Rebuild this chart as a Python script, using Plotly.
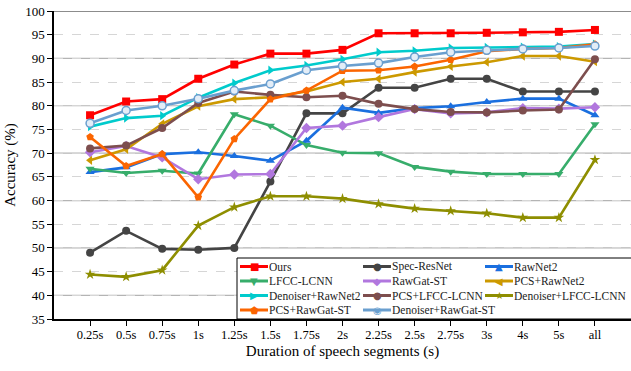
import plotly.graph_objects as go

categories = ["0.25s", "0.5s", "0.75s", "1s", "1.25s", "1.5s", "1.75s", "2s",
              "2.25s", "2.5s", "2.75s", "3s", "4s", "5s", "all"]

ours = [78.0, 80.9, 81.4, 85.7, 88.7, 91.0, 91.0, 91.8, 95.3, 95.3, 95.3, 95.4, 95.5, 95.6, 96.0]
spec_resnet = [49.0, 53.6, 49.8, 49.6, 50.0, 64.0, 78.4, 78.4, 83.8, 83.8, 85.7, 85.7, 83.0, 83.0, 83.0]
rawnet2 = [66.0, 67.0, 69.8, 70.2, 69.4, 68.4, 72.6, 79.6, 78.5, 79.5, 79.9, 80.8, 81.5, 81.5, 78.0]
lfcc_lcnn = [66.7, 65.8, 66.3, 65.7, 78.2, 75.8, 71.7, 70.1, 70.0, 67.1, 66.1, 65.6, 65.6, 65.6, 76.1]
rawgat_st = [70.2, 71.5, 69.1, 64.5, 65.5, 65.6, 75.3, 75.8, 77.6, 79.3, 78.4, 78.6, 79.5, 79.4, 79.7]
pcs_rawnet2 = [68.5, 70.8, 76.2, 79.9, 81.4, 81.8, 83.0, 85.0, 85.7, 87.1, 88.3, 89.2, 90.5, 90.5, 89.3]
den_rawnet2 = [75.6, 77.4, 77.9, 81.7, 84.8, 87.5, 88.5, 89.8, 91.3, 91.6, 92.2, 92.3, 92.4, 92.5, 93.0]
pcs_lfcc = [71.0, 71.6, 75.3, 80.6, 83.0, 82.3, 81.8, 82.1, 80.4, 79.3, 78.7, 78.6, 79.0, 79.2, 89.8]
den_lfcc = [44.4, 43.9, 45.3, 54.7, 58.6, 60.9, 60.9, 60.4, 59.3, 58.3, 57.8, 57.3, 56.4, 56.4, 68.6]
pcs_rawgat = [73.4, 67.3, 69.8, 60.7, 73.0, 81.4, 83.2, 87.4, 87.5, 88.3, 89.7, 91.5, 92.0, 92.2, 93.0]
den_rawgat = [76.3, 79.0, 80.0, 81.5, 83.2, 84.6, 87.5, 88.4, 89.0, 90.3, 91.3, 91.7, 92.0, 92.2, 92.6]

y_ticks = [35, 40, 45, 50, 55, 60, 65, 70, 75, 80, 85, 90, 95, 100]

# name, values, colour, plotly symbol, fill (None = solid), legend glyph
series = [
    ("Ours", ours, "#FF0000", "square", None, "\u25A0"),
    ("Spec-ResNet", spec_resnet, "#444444", "circle", None, "\u25CF"),
    ("RawNet2", rawnet2, "#1A6FDF", "triangle-up", None, "\u25B2"),
    ("LFCC-LCNN", lfcc_lcnn, "#37AD6B", "triangle-down", None, "\u25BC"),
    ("RawGat-ST", rawgat_st, "#B177DE", "diamond", None, "\u25C6"),
    ("PCS+RawNet2", pcs_rawnet2, "#CC9900", "triangle-left", None, "\u25C0"),
    ("Denoiser+RawNet2", den_rawnet2, "#00CBCC", "triangle-right", None, "\u25B6"),
    ("PCS+LFCC-LCNN", pcs_lfcc, "#7D4E4E", "circle", None, "\u25CF"),
    ("Denoiser+LFCC-LCNN", den_lfcc, "#8E8E00", "star", None, "\u2605"),
    ("PCS+RawGat-ST", pcs_rawgat, "#FB6501", "pentagon", None, "\u2B1F"),
    ("Denoiser+RawGat-ST", den_rawgat, "#6A9FCF", "circle", "#E3EDF7", "\u25C9"),
]

SERIF = "Liberation Serif, Times New Roman, Times, Nimbus Roman, DejaVu Serif, serif"

fig = go.Figure()
for name, vals, color, sym, fill, glyph in series:
    marker = dict(symbol=sym, size=8, color=fill if fill else color,
                  line=dict(color=color, width=1.5 if fill else 0))
    fig.add_trace(go.Scatter(
        x=list(range(len(categories))), y=vals, name=name, mode="lines+markers",
        line=dict(color=color, width=2.6), marker=marker, showlegend=False,
    ))

# solid major gridlines every 10
for v in [40, 50, 60, 70, 80, 90]:
    fig.add_shape(type="line", xref="paper", x0=0, x1=1, yref="y", y0=v, y1=v,
                  line=dict(color="#B4B4B4", width=1.2), layer="below")
# top border
fig.add_shape(type="line", xref="paper", x0=0, x1=1, yref="y", y0=100, y1=100,
              line=dict(color="#666666", width=1.6), layer="above")

# ---- hand-built legend (3 columns, row-major order) ----
L, R, T, B = 54.0, 631.0, 11.0, 319.0
def px(xp):
    return (xp - L) / (R - L)
def py(yp):
    return (B - yp) / (B - T)

fig.add_shape(type="rect", xref="paper", yref="paper",
              x0=px(237), x1=px(640), y0=py(319), y1=py(258),
              line=dict(color="black", width=1), fillcolor="white", layer="above")

col_line_x = [240, 363, 485]
row_y = [266.5, 281.0, 295.5, 310.0]
annotations = []
for i, (name, vals, color, sym, fill, glyph) in enumerate(series):
    r, c = divmod(i, 3)
    x0 = col_line_x[c]
    yy = row_y[r]
    fig.add_shape(type="line", xref="paper", yref="paper",
                  x0=px(x0), x1=px(x0 + 28), y0=py(yy), y1=py(yy),
                  line=dict(color=color, width=3), layer="above")
    annotations.append(dict(
        x=px(x0 + 14), y=py(yy), xref="paper", yref="paper", text=glyph,
        showarrow=False, xanchor="center", yanchor="middle",
        font=dict(family="DejaVu Sans", size=10, color=color)))
    annotations.append(dict(
        x=px(x0 + 27), y=py(yy), xref="paper", yref="paper", text=name,
        showarrow=False, xanchor="left", yanchor="middle",
        font=dict(family=SERIF, size=11.5, color="#222222")))

fig.update_layout(
    width=631, height=371,
    margin=dict(l=54, r=0, t=11, b=52, autoexpand=False),
    paper_bgcolor="white", plot_bgcolor="white",
    font=dict(family=SERIF, color="black", size=13),
    showlegend=False,
    annotations=annotations,
    xaxis=dict(
        range=[-1, 15], tickmode="array", automargin=False,
        tickvals=list(range(len(categories))), ticktext=categories,
        showgrid=False, zeroline=False,
        showline=True, linecolor="black", linewidth=1.5,
        ticks="outside", ticklen=5, tickcolor="black",
        tickfont=dict(size=12.5), ticklabelstandoff=-2,
        title=dict(text="Duration of speech segments (s)", font=dict(size=15), standoff=5),
    ),
    yaxis=dict(
        range=[35, 100], tickmode="array", tickvals=y_ticks, automargin=False,
        showgrid=True, gridcolor="#D6D6D6", griddash="dash", gridwidth=1,
        zeroline=False,
        showline=True, linecolor="black", linewidth=1.5,
        ticks="outside", ticklen=5, tickcolor="black",
        tickfont=dict(size=13),
        title=dict(text="Accuracy (%)", font=dict(size=15), standoff=6),
    ),
)

fig.write_html("out.html", config={"displayModeBar": False},
               post_script="document.body.style.margin='0';document.body.style.overflow='hidden';")
